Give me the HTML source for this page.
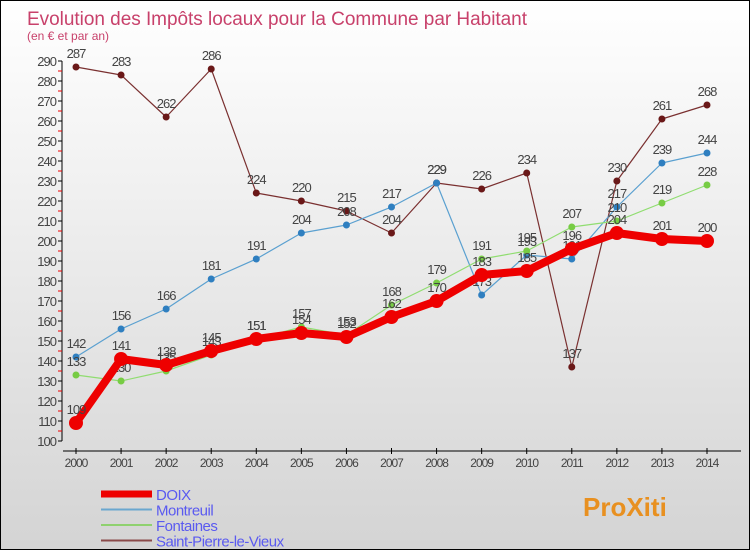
<!DOCTYPE html>
<html><head><meta charset="utf-8"><style>
body{margin:0;}
#c{width:748px;height:548px;border:1px solid #000;background:linear-gradient(#fff,#d4d4d4);position:relative;overflow:hidden;font-family:"Liberation Sans",sans-serif;}
svg{position:absolute;left:0;top:0}
</style></head><body>
<div id="c">
<svg id="s" width="750" height="550">
<text x="26" y="24" font-size="19" fill="#c8416b" textLength="500">Evolution des Impôts locaux pour la Commune par Habitant</text>
<text x="26" y="39" font-size="12" fill="#c8416b">(en € et par an)</text>
</svg>
</div>
<script>
const years=[2000,2001,2002,2003,2004,2005,2006,2007,2008,2009,2010,2011,2012,2013,2014];
const doix=[109,141,138,145,151,154,152,162,170,183,185,196,204,201,200];
const montreuil=[142,156,166,181,191,204,208,217,229,173,193,191,217,239,244];
const fontaines=[133,130,135,143,151,157,153,168,179,191,195,207,210,219,228];
const stpierre=[287,283,262,286,224,220,215,204,229,226,234,137,230,261,268];
const yTicks=[100,110,120,130,140,150,160,170,180,190,200,210,220,230,240,250,260,270,280,290];
const NS='http://www.w3.org/2000/svg';
const s=document.getElementById('s');
const X=i=>75+i*(706-75)/14;
const Y=v=>440-(v-100)*2;
function mk(t,a,p){const e=document.createElementNS(NS,t);for(const k in a)e.setAttribute(k,a[k]);(p||s).appendChild(e);return e;}
let ax=mk('line',{x1:61,y1:Y(290),x2:61,y2:Y(100),stroke:'#000','stroke-width':1});


yTicks.forEach(v=>{
 mk('line',{x1:57,y1:Y(v),x2:61,y2:Y(v),stroke:'#000'});
 if(v<290) mk('line',{x1:57,y1:Y(v+5),x2:61,y2:Y(v+5),stroke:'#e00'});
 const t=mk('text',{x:55,y:Y(v)+5,'font-size':13,fill:'#444','text-anchor':'end','letter-spacing':'-1'});
 t.textContent=v;
 
 
});
let xa=mk('line',{x1:62,y1:450,x2:740,y2:450,stroke:'#000'});


years.forEach((y,i)=>{
 mk('line',{x1:X(i),y1:447,x2:X(i),y2:453,stroke:'#000'});
 const t=mk('text',{x:X(i),y:466,'font-size':12,fill:'#444','text-anchor':'middle','letter-spacing':'-1'});
 t.textContent=y;
 
 
});
function series(data,color,w,r,name,dot){
 const g=mk('g',{});
 
 
 mk('polyline',{points:data.map((v,i)=>X(i)+','+Y(v)).join(' '),fill:'none',stroke:color,'stroke-width':w,'stroke-linejoin':'round'},g);
 data.forEach((v,i)=>{
  const c=mk('circle',{cx:X(i),cy:Y(v),r:r,fill:dot},g);
  
  
  const t=mk('text',{x:X(i),y:Y(v)-9,'font-size':13,fill:'#444','text-anchor':'middle','letter-spacing':'-1'},g);
  t.textContent=v;
  
  
 });
}
series(stpierre,'#7a3030',1.2,3.5,'saint-pierre','#6a1818');
series(montreuil,'#5aa0d0',1.2,3.5,'montreuil','#2f7fc0');
series(fontaines,'#90dd70',1.2,3.5,'fontaines','#77cc44');
series(doix,'#ee0000',8,7,'doix','#ee0000');
const leg=[['DOIX','#ee0000',7],['Montreuil','#6aa7cf',2],['Fontaines','#8fd16f',2],['Saint-Pierre-le-Vieux','#8a4a4a',2]];
leg.forEach((l,i)=>{
 const y=493+i*15.5;
 const ln=mk('line',{x1:100,y1:y,x2:151,y2:y,stroke:l[1],'stroke-width':l[2]});
 
 
 const t=mk('text',{x:155,y:y+6,'font-size':15,fill:'#5a5af0','letter-spacing':'-0.5'});
 t.textContent=l[0];
 
 
});
const p=mk('text',{x:582,y:515,'font-size':26,'font-weight':'bold',fill:'#e89020'});
p.textContent='ProXiti';


</script>
</body></html>
